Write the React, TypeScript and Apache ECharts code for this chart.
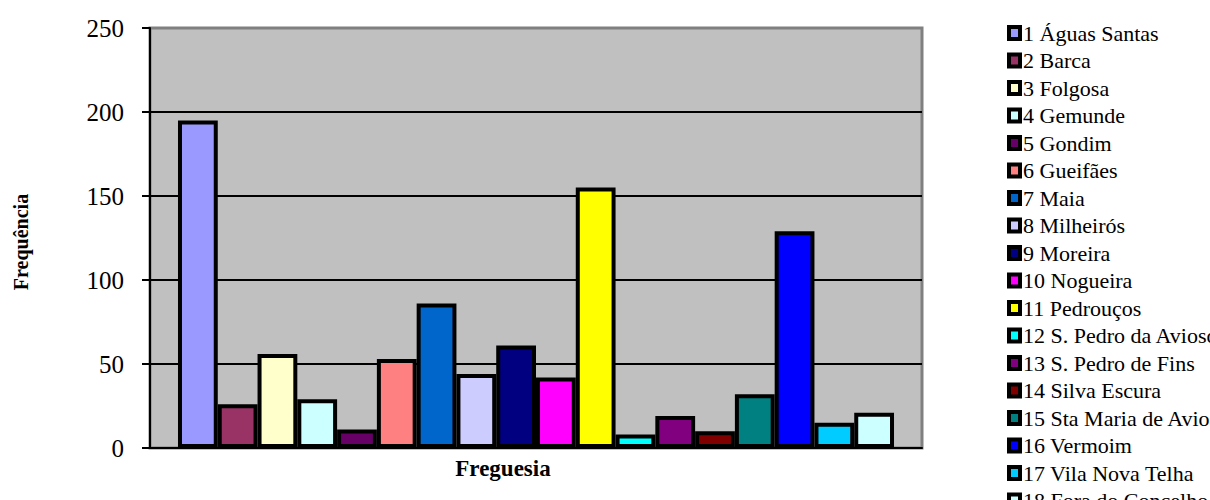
import React, { useEffect, useRef } from "react";
import * as echarts from "echarts";

const categories = [""];
const freguesias = [
  "1 Águas Santas",
  "2 Barca",
  "3 Folgosa",
  "4 Gemunde",
  "5 Gondim",
  "6 Gueifães",
  "7 Maia",
  "8 Milheirós",
  "9 Moreira",
  "10 Nogueira",
  "11 Pedrouços",
  "12 S. Pedro da Avioso",
  "13 S. Pedro de Fins",
  "14 Silva Escura",
  "15 Sta Maria de Avioso",
  "16 Vermoim",
  "17 Vila Nova Telha",
  "18 Fora do Concelho",
];
const frequencias = [195, 26, 56, 29, 11, 53, 86, 44, 61, 42, 155, 8, 19, 10, 32, 129, 15, 21];
const colors = [
  "#9999FF", "#993366", "#FFFFCC", "#CCFFFF", "#660066", "#FF8080",
  "#0066CC", "#CCCCFF", "#000080", "#FF00FF", "#FFFF00", "#00FFFF",
  "#800080", "#800000", "#008080", "#0000FF", "#00CCFF", "#CCFFFF",
];
const yTicks = { min: 0, max: 250, interval: 50 };

const FONT = "'Liberation Serif', 'Times New Roman', serif";

export default function App() {
  const ref = useRef<HTMLDivElement>(null);
  useEffect(() => {
    if (!ref.current) return;
    const chart = echarts.init(ref.current, undefined, { renderer: "svg" });
    const series = freguesias.map((name, i) => ({
      name,
      type: "bar",
      data: [frequencias[i]],
      barGap: "0%",
      barCategoryGap: "7.25%",
      itemStyle: { color: colors[i], borderColor: "#000", borderWidth: 4 },
    }));
    chart.setOption({
      animation: false,
      backgroundColor: "#fff",
      textStyle: { fontFamily: FONT },
      grid: {
        left: 150,
        top: 28,
        width: 772,
        height: 420,
        show: true,
        backgroundColor: "#C0C0C0",
        borderColor: "#808080",
        borderWidth: 3,
      },
      xAxis: {
        type: "category",
        data: categories,
        axisLine: { show: true, lineStyle: { color: "#000", width: 2 } },
        axisTick: { show: false },
        axisLabel: { show: false },
        splitLine: { show: false },
      },
      yAxis: {
        type: "value",
        min: yTicks.min,
        max: yTicks.max,
        interval: yTicks.interval,
        axisLine: { show: true, lineStyle: { color: "#000", width: 2 } },
        axisTick: { show: true, inside: false, length: 8, lineStyle: { color: "#000", width: 2 } },
        axisLabel: { color: "#000", fontFamily: FONT, fontSize: 25, margin: 26 },
        splitLine: { show: true, showMaxLine: false, lineStyle: { color: "#000", width: 2 } },
      },
      legend: {
        orient: "vertical",
        left: 1002,
        top: 17,
        icon: "rect",
        itemWidth: 11,
        itemHeight: 12,
        itemGap: 5.5,
        itemStyle: { borderColor: "#000", borderWidth: 4 },
        textStyle: { color: "#000", fontFamily: FONT, fontSize: 22, lineHeight: 22, padding: [0, 0, 0, -2] },
        data: freguesias,
      },
      graphic: [
        {
          type: "text",
          x: 21,
          y: 242,
          rotation: Math.PI / 2,
          style: {
            text: "Frequência",
            fontFamily: FONT,
            fontSize: 20,
            fontWeight: "bold",
            fill: "#000",
            align: "center",
            verticalAlign: "middle",
          },
        },
        {
          type: "text",
          x: 503,
          y: 468,
          style: {
            text: "Freguesia",
            fontFamily: FONT,
            fontSize: 23,
            fontWeight: "bold",
            fill: "#000",
            align: "center",
            verticalAlign: "middle",
          },
        },
      ],
      series,
    });
    return () => chart.dispose();
  }, []);
  return (
    <div
      ref={ref}
      style={{ position: "fixed", left: 0, top: 0, width: 1210, height: 600 }}
    />
  );
}
